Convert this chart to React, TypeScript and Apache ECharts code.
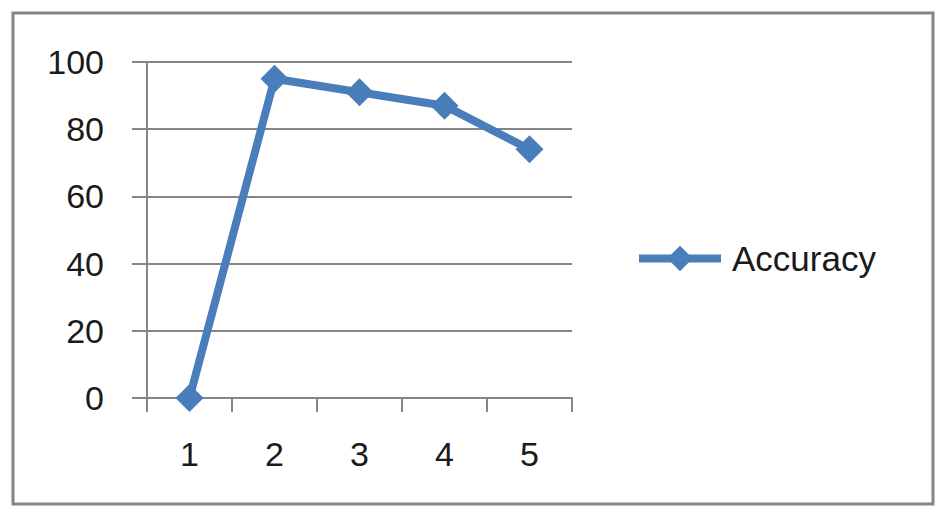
import React, { useEffect, useRef } from "react";
import * as echarts from "echarts";

const categories = ["1", "2", "3", "4", "5"];
const accuracy = [0, 95, 91, 87, 74];
const seriesName = "Accuracy";

export default function App() {
  const ref = useRef<HTMLDivElement>(null);
  useEffect(() => {
    if (!ref.current) return;
    const chart = echarts.init(ref.current, null, { renderer: "svg" });
    const font = "'Liberation Sans', Arial, sans-serif";
    chart.setOption({
      animation: false,
      backgroundColor: "#ffffff",
      graphic: [
        {
          type: "rect",
          shape: { x: 13, y: 13, width: 920, height: 491 },
          style: { fill: "none", stroke: "#858585", lineWidth: 3 },
          silent: true,
        },
      ],
      grid: { left: 147, right: 376, top: 62, bottom: 120 },
      legend: {
        left: 630,
        top: 236,
        itemWidth: 82,
        itemHeight: 32,
        data: [seriesName],
        lineStyle: { width: 8, color: "#4A7EBB" },
        textStyle: { fontFamily: font, fontSize: 35, color: "#1a1a1a", padding: [0, 0, 0, 6] },
      },
      xAxis: {
        type: "category",
        data: categories,
        boundaryGap: true,
        axisLine: { lineStyle: { color: "#868686", width: 2 } },
        axisTick: { show: true, length: 14, lineStyle: { color: "#868686", width: 2 } },
        axisLabel: { margin: 39, fontFamily: font, fontSize: 34, color: "#1a1a1a" },
        splitLine: { show: false },
      },
      yAxis: {
        type: "value",
        min: 0,
        max: 100,
        interval: 20,
        axisLine: { show: true, lineStyle: { color: "#868686", width: 2 } },
        axisTick: { show: true, length: 15, lineStyle: { color: "#868686", width: 2 } },
        axisLabel: { margin: 43, fontFamily: font, fontSize: 34, color: "#1a1a1a" },
        splitLine: { show: true, lineStyle: { color: "#868686", width: 2 } },
      },
      series: [
        {
          name: seriesName,
          type: "line",
          data: accuracy,
          symbol: "diamond",
          symbolSize: 28,
          showSymbol: true,
          itemStyle: { color: "#4A7EBB" },
          lineStyle: { color: "#4A7EBB", width: 8 },
        },
      ],
    });
    return () => chart.dispose();
  }, []);
  return (
    <div
      ref={ref}
      style={{ position: "fixed", left: 0, top: 0, width: 948, height: 518 }}
    />
  );
}
